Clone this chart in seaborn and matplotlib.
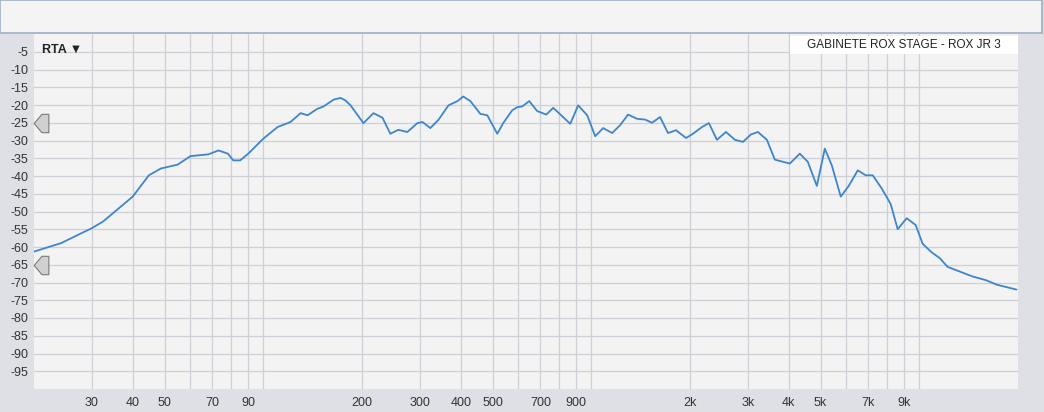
import numpy as np
import pandas as pd
import seaborn as sns
import matplotlib.pyplot as plt
from matplotlib.path import Path
from matplotlib.patches import Rectangle
from matplotlib.ticker import FixedLocator, NullFormatter
from matplotlib.transforms import blended_transform_factory

# RTA curve (Hz, dB)
freq_hz = [20, 24.2, 30, 32.4, 35, 40, 44.8, 48.7, 54.8, 60, 68, 73, 78, 81, 85, 90, 100,
           107.6, 110.6, 121, 130, 136.5, 146, 152.7, 163.8, 172, 178, 184.5, 202, 216.8,
           231, 244, 258, 275, 295, 306, 323, 342, 367, 391, 407, 428, 459, 482, 517, 539,
           574, 595, 616, 647, 684, 729, 766, 863, 912, 972, 1028, 1087, 1158, 1224, 1295,
           1380, 1459, 1532, 1621, 1714, 1813, 1945, 2042, 2176, 2284, 2416, 2574, 2742,
           2900, 3067, 3221, 3431, 3629, 4032, 4323, 4573, 4872, 5152, 5412, 5763, 6095,
           6494, 6867, 7213, 7682, 8182, 8594, 9154, 9750, 10240, 10907, 11535, 12202,
           13272, 14540, 16040, 17204, 18452, 19790]
level_db = [-61.3, -58.9, -54.7, -52.9, -50.3, -45.8, -39.8, -37.9, -36.8, -34.4, -33.9,
            -32.8, -33.7, -35.6, -35.6, -33.7, -29.5, -27.1, -26.2, -24.8, -22.3, -22.9,
            -21.1, -20.4, -18.5, -18.0, -18.7, -20.1, -25.1, -22.3, -23.6, -28.1, -27.0,
            -27.6, -25.1, -24.8, -26.5, -24.2, -20.1, -18.9, -17.6, -18.9, -22.5, -22.9,
            -28.1, -25.1, -21.5, -20.6, -20.4, -18.9, -21.7, -22.7, -20.8, -25.3, -20.1,
            -22.9, -28.8, -26.5, -27.9, -25.7, -22.7, -23.9, -24.1, -25.0, -23.4, -27.9,
            -27.1, -29.3, -28.1, -26.2, -25.1, -29.8, -27.6, -29.8, -30.4, -28.3, -27.6,
            -29.8, -35.4, -36.5, -33.7, -36.0, -42.8, -32.3, -37.0, -45.8, -42.8, -38.4,
            -39.8, -39.8, -43.5, -47.9, -55.0, -51.9, -53.8, -59.1, -61.5, -63.1, -65.6,
            -66.9, -68.3, -69.4, -70.6, -71.3, -72.0]

x_labeled = [30, 40, 50, 70, 90, 200, 300, 400, 500, 700, 900, 2000, 3000, 4000, 5000, 7000, 9000]
x_labels = ['30', '40', '50', '70', '90', '200', '300', '400', '500', '700', '900',
            '2k', '3k', '4k', '5k', '7k', '9k']
x_unlabeled = [60, 80, 100, 600, 800, 1000, 6000, 8000, 10000]
y_ticks = list(range(-5, -100, -5))
marker_levels = [-25, -65]
legend_text = 'GABINETE ROX STAGE - ROX JR 3'

df = pd.DataFrame({'freq': freq_hz, 'db': level_db})

sns.set_theme(style="white")
plt.rcParams['font.family'] = ['Liberation Sans', 'DejaVu Sans']

fig = plt.figure(figsize=(10.44, 4.12), dpi=100, facecolor='#dfe0e5')

# header strip
fig.patches.append(Rectangle((0, 379 / 412), 1042 / 1044, 33 / 412, transform=fig.transFigure,
                             facecolor='#f4f4f4', edgecolor='#9fb0c4', linewidth=1.2, zorder=0))

ax = fig.add_axes([34 / 1044, 23 / 412, 984 / 1044, 355 / 412])
ax.set_facecolor('#f3f3f3')

sns.lineplot(data=df, x='freq', y='db', ax=ax, color='#3d86cc', linewidth=1.3, sort=False)

ax.set_xscale('log')
ax.set_xlim(20, 20000)
ax.set_ylim(-100, 0)

ax.xaxis.set_major_locator(FixedLocator(x_labeled))
ax.set_xticklabels(x_labels)
ax.xaxis.set_minor_locator(FixedLocator(x_unlabeled))
ax.xaxis.set_minor_formatter(NullFormatter())
ax.set_yticks(y_ticks)
ax.set_yticklabels([str(v) for v in y_ticks])

ax.grid(False)
ax.grid(True, which='both', axis='x', color='#cdd0d6', linewidth=0.9)
ax.grid(True, which='major', axis='y', color='#cdd0d6', linewidth=0.9)
ax.set_axisbelow(True)

ax.tick_params(axis='both', which='both', length=0, labelsize=9, colors='#333333')
ax.tick_params(axis='x', pad=6)
ax.tick_params(axis='y', pad=4)
for s in ax.spines.values():
    s.set_visible(False)
ax.set_xlabel('')
ax.set_ylabel('')

# level handles at left edge
tag = Path([(-0.8, 0), (0.05, 1), (0.8, 1), (0.8, -1), (0.05, -1), (-0.8, 0)],
           [Path.MOVETO, Path.LINETO, Path.LINETO, Path.LINETO, Path.LINETO, Path.CLOSEPOLY])
trans = blended_transform_factory(ax.transAxes, ax.transData)
ax.scatter([0.0068] * len(marker_levels), marker_levels, marker=tag, s=175, transform=trans,
           facecolor='#d0d0d0', edgecolor='#7a7a7a', linewidth=0.8, clip_on=False, zorder=5)

ax.text(0.008, 0.955, 'RTA ▼', transform=ax.transAxes, fontsize=9, fontweight='bold',
        color='#222222', va='center', ha='left', family=['Liberation Sans', 'DejaVu Sans'])

fig.patches.append(Rectangle((790 / 1044, 358 / 412), 228 / 1044, 18 / 412, transform=fig.transFigure,
                             facecolor='white', edgecolor='none', zorder=3))
fig.text(904 / 1044, 367 / 412, legend_text, ha='center', va='center', fontsize=8.5,
         color='#222222', zorder=4)

fig.savefig('out.png', dpi=100, facecolor=fig.get_facecolor())
